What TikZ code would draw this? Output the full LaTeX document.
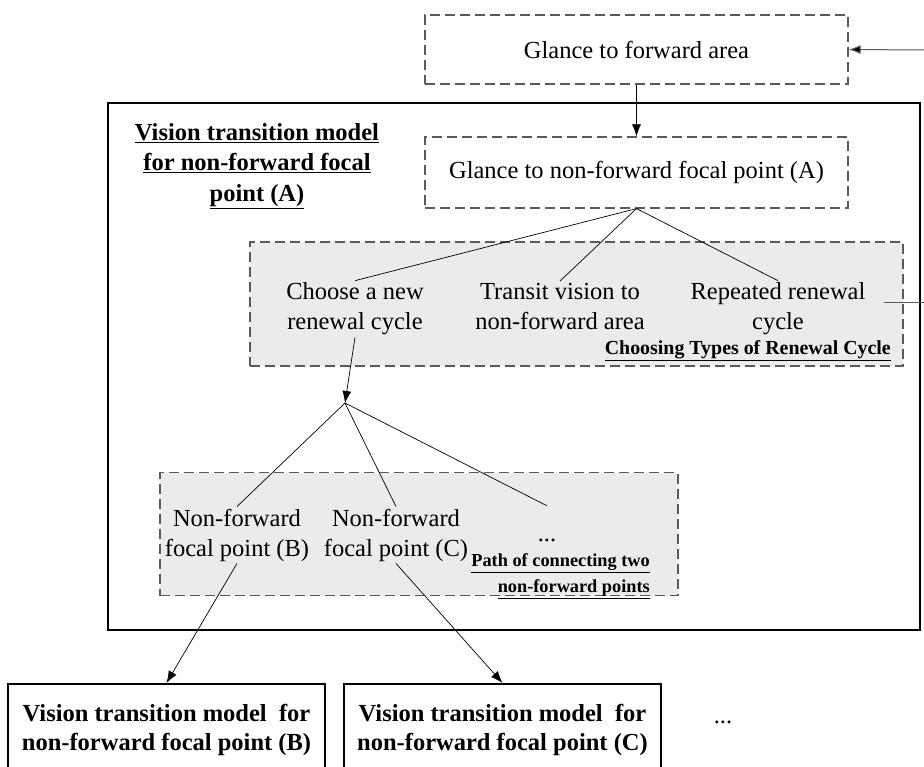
\documentclass[tikz,border=0pt]{standalone}
\usepackage{fontspec}
\setmainfont{Liberation Serif}
\usetikzlibrary{arrows.meta}
\definecolor{boxgray}{HTML}{EBEBEB}
\definecolor{dashgray}{HTML}{5A5A5A}
\tikzset{
  every node/.style={font=\fontsize{24.5}{30}\selectfont},
  dashbox/.style={draw=dashgray, dash pattern=on 10pt off 5pt, line width=1.2pt, inner sep=0pt},
  greybox/.style={dashbox, fill=boxgray},
  plain/.style={align=center, inner sep=2pt},
  tag/.style={font=\bfseries\fontsize{19.9}{26}\selectfont, align=right, inner sep=0pt},
  modelbox/.style={draw=black, line width=1.5pt, align=center, minimum width=317pt, minimum height=92pt, inner sep=0pt,
    font=\bfseries\fontsize{24.5}{29}\selectfont},
  link/.style={draw=black, line width=0.7pt},
  tip/.style={-{Latex[length=12pt,width=9pt,fill=black]}},
  arrowlink/.style={link, tip},
  feedback/.style={draw=dashgray, line width=1pt},
}
\begin{document}
\begin{tikzpicture}[x=1pt,y=-1pt]
\useasboundingbox (0,0) rectangle (924,767);

% outer frame of the model for point (A)
\draw[line width=1.8pt] (108,103) rectangle (920,630);

% top-level glance boxes
\node[dashbox, minimum width=423pt, minimum height=69pt] (fwd) at (636.5,49.5) {Glance to forward area};
\node[dashbox, minimum width=423pt, minimum height=71pt] (glA) at (636.5,172.5) {Glance to non-forward focal point (A)};

\node[font=\bfseries\fontsize{24.5}{30.5}\selectfont, align=center, inner sep=0pt] (title) at (257,166)
  {\underline{Vision transition model}\\ \underline{for non-forward focal}\\ \underline{point (A)}};

% renewal cycle choices
\node[greybox, minimum width=653pt, minimum height=124pt] (grey1) at (576.5,304) {};
\node[plain] (choose) at (355,309) {Choose a new\\renewal cycle};
\node[plain] (transit) at (560,306.5) {Transit vision to\\non-forward area};
\node[plain] (repeat) at (778,309) {Repeated renewal\\cycle};
\node[tag, anchor=east] (tag1) at (891,351) {\underline{Choosing Types of Renewal Cycle}};

% paths to other focal points
\node[greybox, minimum width=518pt, minimum height=123pt] (grey2) at (419,534) {};
\node[plain] (nfB) at (237,535) {Non-forward\\focal point (B)};
\node[plain] (nfC) at (396,535) {Non-forward\\focal point (C)};
\node[inner sep=1pt, text height=34pt, anchor=base] (dots) at (547,541) {...};
\node[tag, anchor=east, font=\bfseries\fontsize{18.3}{26}\selectfont] (tag2) at (650,576)
  {\underline{Path of connecting two}\\ \underline{non-forward points}};

% follow-up models
\node[modelbox, anchor=north] (modB) at (166.5,683) {Vision transition model\ \ for\\non-forward focal point (B)};
\node[modelbox, anchor=north] (modC) at (502.5,683) {Vision transition model\ \ for\\non-forward focal point (C)};
\node[anchor=base] (dots2) at (723,723) {...};

% connectors
\coordinate (back1) at (925,50);
\coordinate (back2) at (925,303);
\coordinate (backstart) at (884,303);
\coordinate (split) at (345,403);

\draw[feedback, tip] (back1) -- (fwd.east);
\draw[feedback] (backstart) -- (back2);
\draw[arrowlink] (fwd.south) -- (glA.north);
\draw[link] (glA.south) -- (choose.north);
\draw[link] (glA.south) -- (transit.north);
\draw[link] (glA.south) -- (repeat.north);
\draw[arrowlink] (choose.south) -- (split);
\draw[link] (split) -- (nfB.north);
\draw[link] (split) -- (nfC.north);
\draw[link] (split) -- (dots.north);
\draw[arrowlink] (nfB.south) -- (modB.north);
\draw[arrowlink] (nfC.south) -- (modC.north);
\end{tikzpicture}
\end{document}
